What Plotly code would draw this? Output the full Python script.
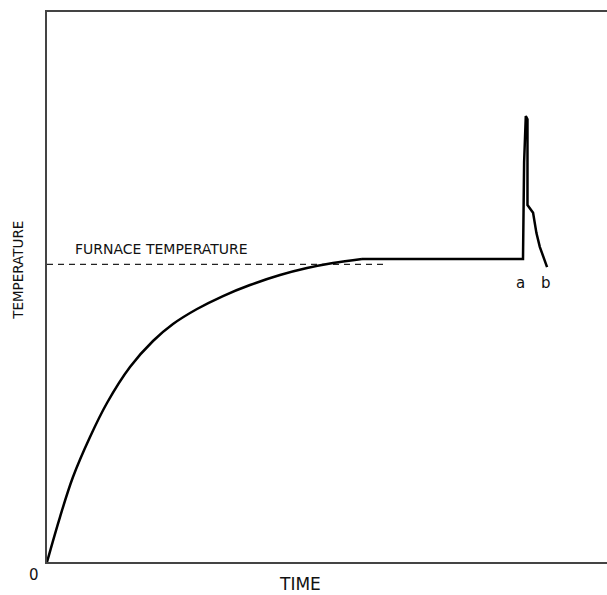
import plotly.graph_objects as go

# Heating curve of the specimen (arbitrary units, 0-100 on both axes)
heat_time = [0, 2.32, 4.64, 7.68, 10.71, 14.82, 18.93, 22.5, 26.79, 31.43, 36.25, 41.61, 46.43, 51.07, 56.25]
heat_temp = [0, 8.18, 15.45, 22.73, 28.91, 35.45, 40.18, 43.27, 46.0, 48.36, 50.36, 52.18, 53.45, 54.36, 55.1]

# Plateau, ignition spike (a) and cooling (b)
spike_time = [56.25, 85.0, 85.2, 85.5, 85.8, 85.8, 86.8, 87.4, 88.0, 89.3]
spike_temp = [55.1, 55.1, 72.7, 81.1, 80.5, 64.9, 63.5, 59.8, 57.3, 53.6]

# Furnace temperature reference level
furnace_time = [0, 60.4]
furnace_temp = [54.1, 54.1]

FONT = "DejaVu Sans, sans-serif"

fig = go.Figure()
fig.add_trace(go.Scatter(x=furnace_time, y=furnace_temp, mode="lines",
                         line=dict(color="#222", width=1.2, dash="6px,5px"),
                         hoverinfo="skip"))
fig.add_trace(go.Scatter(x=heat_time, y=heat_temp, mode="lines",
                         line=dict(color="black", width=2.5, shape="spline", smoothing=1.0)))
fig.add_trace(go.Scatter(x=spike_time, y=spike_temp, mode="lines",
                         line=dict(color="black", width=2.5)))

annotations = [
    dict(text="FURNACE TEMPERATURE", x=4.6, y=56.9, xref="x", yref="y",
         xanchor="left", yanchor="middle", showarrow=False,
         font=dict(size=14, family=FONT, color="#111")),
    dict(text="a", x=84.5, y=50.7, xref="x", yref="y", showarrow=False,
         xanchor="center", yanchor="middle",
         font=dict(size=15, family=FONT, color="#111")),
    dict(text="b", x=89.1, y=50.7, xref="x", yref="y", showarrow=False,
         xanchor="center", yanchor="middle",
         font=dict(size=15, family=FONT, color="#111")),
    dict(text="0", x=-0.023, y=-0.024, xref="paper", yref="paper", showarrow=False,
         xanchor="center", yanchor="middle",
         font=dict(size=15, family=FONT, color="#111")),
    dict(text="TIME", x=0.452, y=-0.04, xref="paper", yref="paper", showarrow=False,
         xanchor="center", yanchor="middle", borderpad=0,
         font=dict(size=17, family=FONT, color="#111")),
    dict(text="TEMPERATURE", x=-0.052, y=0.531, xref="paper", yref="paper", showarrow=False,
         xanchor="center", yanchor="middle", textangle=-90,
         font=dict(size=13.5, family=FONT, color="#111")),
]

fig.update_layout(
    width=607, height=595,
    margin=dict(l=47, r=0, t=12, b=33),
    paper_bgcolor="white", plot_bgcolor="white",
    showlegend=False,
    annotations=annotations,
    xaxis=dict(range=[0, 100], showgrid=False, zeroline=False, showticklabels=False,
               ticks="", showline=True, mirror=True, linecolor="#444", linewidth=1.5),
    yaxis=dict(range=[0, 100], showgrid=False, zeroline=False, showticklabels=False,
               ticks="", showline=True, mirror=False, linecolor="#444", linewidth=1.5),
)

fig.write_html("out.html")
